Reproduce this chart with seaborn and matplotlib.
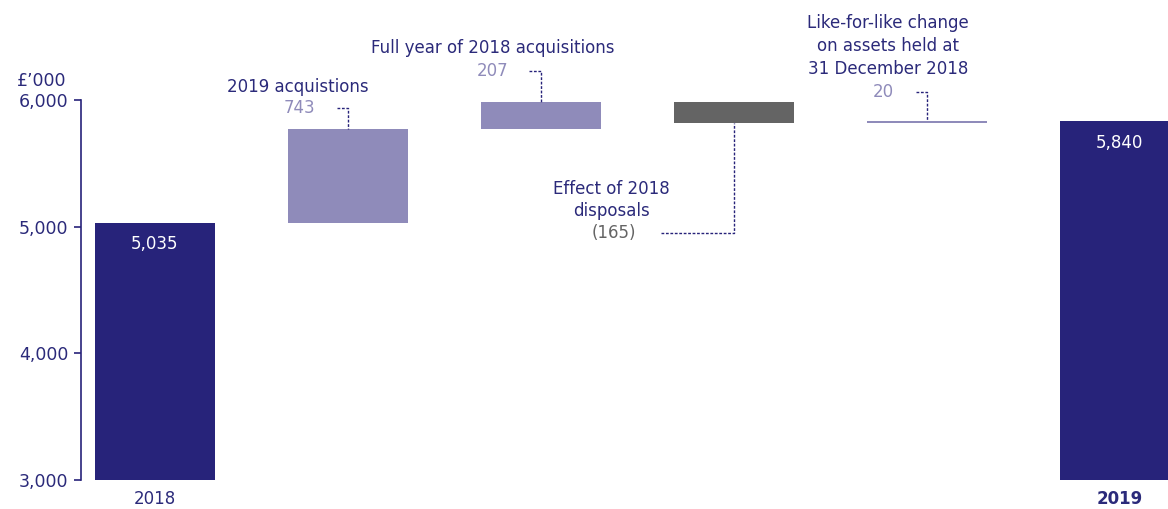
import numpy as np
import pandas as pd
import matplotlib
matplotlib.use("Agg")
import matplotlib.pyplot as plt
import seaborn as sns

# ---- data ----
categories = ["2018", "2019 acquistions", "Full year of 2018 acquisitions",
              "Effect of 2018 disposals", "Like-for-like change", "2019"]
start_value = 5035
changes = [743, 207, -165, 20]
end_value = 5840
y_ticks = [3000, 4000, 5000, 6000]
y_tick_labels = ["3,000", "4,000", "5,000", "6,000"]

NAVY = "#27237A"
LIGHT = "#8F8BBA"
GREY = "#646464"
TEXT = "#2B2A7A"

sns.set_theme(style="white")
plt.rcParams["font.family"] = ["DejaVu Sans"]

# build waterfall table
cum = np.cumsum([start_value] + changes)
bottoms = [0] + list(cum[:-1]) + [0]
heights = [start_value] + changes + [end_value]
colors = [NAVY] + [LIGHT if c >= 0 else GREY for c in changes] + [NAVY]
df = pd.DataFrame({"category": categories, "height": heights, "bottom": bottoms})

W, H = 1168, 509
fig = plt.figure(figsize=(W / 100, H / 100), dpi=100)
ax = fig.add_axes([81 / W, (H - 480) / H, 1 - 81 / W, 480 / H])

sns.barplot(data=df, x="category", y="height", bottom=df["bottom"].values,
            order=categories, width=0.62, ax=ax, errorbar=None,
            color=NAVY, saturation=1)
for p, c in zip(ax.patches, colors):
    p.set_facecolor(c)
    p.set_edgecolor("none")

ax.set_xlim(-0.383, 5.25)
ax.set_ylim(3000, 6794)

for s in ["top", "right", "bottom"]:
    ax.spines[s].set_visible(False)
ax.spines["left"].set_color(NAVY)
ax.spines["left"].set_linewidth(1.2)
ax.spines["left"].set_bounds(3000, 6000)

ax.set_yticks(y_ticks)
ax.set_yticklabels(y_tick_labels)
ax.tick_params(axis="y", left=True, length=5, width=1.2, color=NAVY,
               labelsize=12.5, labelcolor=TEXT, pad=4)
ax.set_xticks([0, 5])
ax.set_xticklabels([categories[0], categories[5]])
ax.tick_params(axis="x", bottom=False, labelsize=12, labelcolor=TEXT, pad=1)
ax.get_xticklabels()[1].set_fontweight("bold")
ax.set_xlabel("")
ax.set_ylabel("")

fig.text(66 / W, 1 - 81 / H, "£’000", ha="right", va="center", fontsize=12.5, color=TEXT)

fs = 12
dash = dict(color=NAVY, lw=1, ls=(0, (2, 1.2)), clip_on=False)

# 2019 acquisitions
ax.text(0.741, 6107, categories[1], ha="center", va="center", fontsize=fs, color=TEXT)
ax.text(0.751, 5941, f"{changes[0]:,}", ha="center", va="center", fontsize=fs, color=LIGHT)
ax.plot([0.943, 1.0, 1.0], [5941, 5941, cum[1]], **dash)

# Full year of 2018 acquisitions
ax.text(1.751, 6415, categories[2], ha="center", va="center", fontsize=fs, color=TEXT)
ax.text(1.751, 6233, f"{changes[1]:,}", ha="center", va="center", fontsize=fs, color=LIGHT)
ax.plot([1.938, 2.0, 2.0], [6233, 6233, cum[2]], **dash)

# Effect of disposals
ax.text(2.368, 5213, "Effect of 2018\ndisposals", ha="center", va="center",
        fontsize=fs, color=TEXT, linespacing=1.35)
ax.text(2.378, 4953, f"({abs(changes[2]):,})", ha="center", va="center", fontsize=fs, color=GREY)
ax.plot([2.622, 3.0, 3.0], [4953, 4953, cum[3]], **dash)

# Like-for-like
ax.text(3.798, 6431, "Like-for-like change\non assets held at\n31 December 2018",
        ha="center", va="center", fontsize=fs, color=TEXT, linespacing=1.35, clip_on=False)
ax.text(3.777, 6067, f"{changes[3]:,}", ha="center", va="center", fontsize=fs, color=LIGHT)
ax.plot([3.943, 4.0, 4.0], [6067, 6067, cum[4]], **dash)

# totals
ax.text(0, 4866, f"{start_value:,}", ha="center", va="center", fontsize=fs, color="white")
ax.text(5, 5664, f"{end_value:,}", ha="center", va="center", fontsize=fs, color="white")

fig.savefig("out.png", dpi=100)
